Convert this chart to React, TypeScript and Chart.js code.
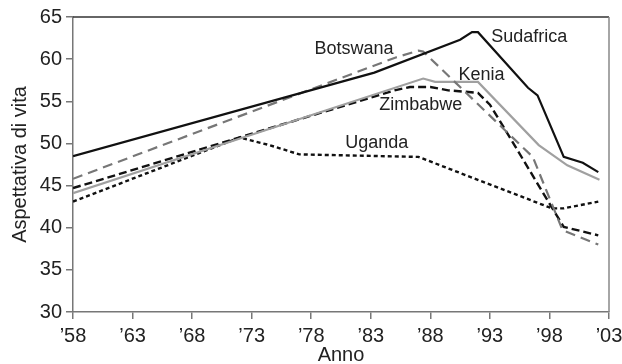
import React, { useEffect, useRef } from "react";
import { Chart, registerables } from "chart.js";

Chart.register(...registerables);

const tickYears = [1958, 1963, 1968, 1973, 1978, 1983, 1988, 1993, 1998, 2003];
const yTicks = [30, 35, 40, 45, 50, 55, 60, 65];

const sudafricaYears = [1958, 1983.3, 1990.5, 1991.5, 1992, 1996.2, 1997, 1999.2, 2000.8, 2002.1];
const sudafricaValues = [48.5, 58.4, 62.3, 63.2, 63.2, 56.6, 55.7, 48.4, 47.7, 46.6];

const botswanaYears = [1958, 1985.1, 1987, 1987.4, 1996.6, 1999.1, 2002.1];
const botswanaValues = [45.8, 60.2, 61.0, 60.9, 48.4, 39.7, 38.0];

const keniaYears = [1958, 1987.4, 1988.4, 1992, 1997.1, 1999.5, 2002.2];
const keniaValues = [44.1, 57.7, 57.3, 57.3, 49.8, 47.4, 45.7];

const zimbabweYears = [1958, 1985, 1986.3, 1988, 1989.5, 1992, 1993, 1994, 1998.2, 1999.2, 2002.1];
const zimbabweValues = [44.7, 56.3, 56.7, 56.7, 56.3, 56.0, 54.6, 52.3, 42.4, 40.1, 39.1];

const ugandaYears = [1958, 1972, 1974.5, 1977, 1987, 1998.2, 1999.2, 2002.1];
const ugandaValues = [43.1, 50.7, 49.8, 48.7, 48.4, 42.3, 42.3, 43.1];

const seriesLabels = ["Sudafrica", "Botswana", "Kenia", "Zimbabwe", "Uganda"];

const zip = (xs: number[], ys: number[]) => xs.map((x, i) => ({ x, y: ys[i] }));

const FONT = "'Liberation Sans', Arial, Helvetica, sans-serif";

// label anchors in data space (year, value) – centre of text
const labelAnchors: { text: string; x: number; y: number }[] = [
  { text: seriesLabels[0], x: 1996.3, y: 62.6 },
  { text: seriesLabels[1], x: 1981.6, y: 61.2 },
  { text: seriesLabels[2], x: 1992.3, y: 58.1 },
  { text: seriesLabels[3], x: 1987.2, y: 54.6 },
  { text: seriesLabels[4], x: 1983.5, y: 50.0 },
];

const framePlugin = {
  id: "frame",
  afterDatasetsDraw(chart: any) {
    const { ctx, chartArea, scales } = chart;
    ctx.save();
    ctx.lineWidth = 1.5;
    ctx.strokeStyle = "#333";
    ctx.beginPath();
    ctx.moveTo(chartArea.left, chartArea.top);
    ctx.lineTo(chartArea.right, chartArea.top);
    ctx.stroke();
    ctx.strokeStyle = "#888";
    ctx.beginPath();
    ctx.moveTo(chartArea.right, chartArea.top);
    ctx.lineTo(chartArea.right, chartArea.bottom);
    ctx.stroke();
    ctx.fillStyle = "#222";
    ctx.font = `18px ${FONT}`;
    ctx.textAlign = "center";
    ctx.textBaseline = "middle";
    for (const l of labelAnchors) {
      ctx.fillText(l.text, scales.x.getPixelForValue(l.x), scales.y.getPixelForValue(l.y));
    }
    ctx.restore();
  },
};

export default function App() {
  const ref = useRef<HTMLCanvasElement | null>(null);
  useEffect(() => {
    if (!ref.current) return;
    const chart = new Chart(ref.current, {
      type: "line",
      data: {
        datasets: [
          {
            label: seriesLabels[0],
            data: zip(sudafricaYears, sudafricaValues),
            borderColor: "#111",
            borderWidth: 2.2,
            pointRadius: 0,
          },
          {
            label: seriesLabels[1],
            data: zip(botswanaYears, botswanaValues),
            borderColor: "#777",
            borderWidth: 2.2,
            borderDash: [10, 6],
            pointRadius: 0,
          },
          {
            label: seriesLabels[2],
            data: zip(keniaYears, keniaValues),
            borderColor: "#a0a0a0",
            borderWidth: 2.2,
            pointRadius: 0,
          },
          {
            label: seriesLabels[3],
            data: zip(zimbabweYears, zimbabweValues),
            borderColor: "#111",
            borderWidth: 2.4,
            borderDash: [8, 4],
            pointRadius: 0,
          },
          {
            label: seriesLabels[4],
            data: zip(ugandaYears, ugandaValues),
            borderColor: "#111",
            borderWidth: 2.4,
            borderDash: [4, 3],
            pointRadius: 0,
          },
        ],
      },
      options: {
        animation: false,
        responsive: false,
        devicePixelRatio: 1,
        layout: { padding: { top: 17, right: 13, left: 0, bottom: 0 } },
        plugins: { legend: { display: false }, tooltip: { enabled: false } },
        scales: {
          x: {
            type: "linear",
            min: 1958,
            max: 2003,
            afterBuildTicks: (s: any) => {
              s.ticks = tickYears.map((v) => ({ value: v }));
            },
            afterFit: (s: any) => {
              s.height = 52;
              s.paddingLeft = 0;
              s.paddingRight = 0;
            },
            ticks: {
              color: "#222",
              font: { family: FONT, size: 20 },
              padding: 5,
              maxRotation: 0,
              autoSkip: false,
              callback: (v: any) => "\u2019" + String(v).slice(2),
            },
            grid: { drawOnChartArea: false, tickLength: 7, color: "#777", lineWidth: 1.5 },
            border: { color: "#777", width: 1.5 },
            title: {
              display: true,
              text: "Anno",
              color: "#222",
              font: { family: FONT, size: 20, lineHeight: 0.9 },
              padding: { top: 0, bottom: 0 },
            },
          },
          y: {
            type: "linear",
            min: 30,
            max: 65,
            afterBuildTicks: (s: any) => {
              s.ticks = yTicks.map((v) => ({ value: v }));
            },
            afterFit: (s: any) => {
              s.width = 73;
              s.paddingTop = 0;
              s.paddingBottom = 0;
            },
            ticks: {
              color: "#222",
              font: { family: FONT, size: 20 },
              padding: 4,
            },
            grid: { drawOnChartArea: false, tickLength: 7, color: "#777", lineWidth: 1.5 },
            border: { color: "#777", width: 1.5 },
            title: {
              display: true,
              text: "Aspettativa di vita",
              color: "#222",
              font: { family: FONT, size: 20, lineHeight: 1.2 },
              padding: { top: 8, bottom: 0 },
            },
          },
        },
      },
      plugins: [framePlugin],
    });
    return () => chart.destroy();
  }, []);
  return (
    <div style={{ position: "fixed", left: 0, top: 0, width: 622, height: 364 }}>
      <canvas ref={ref} width={622} height={364} />
    </div>
  );
}
